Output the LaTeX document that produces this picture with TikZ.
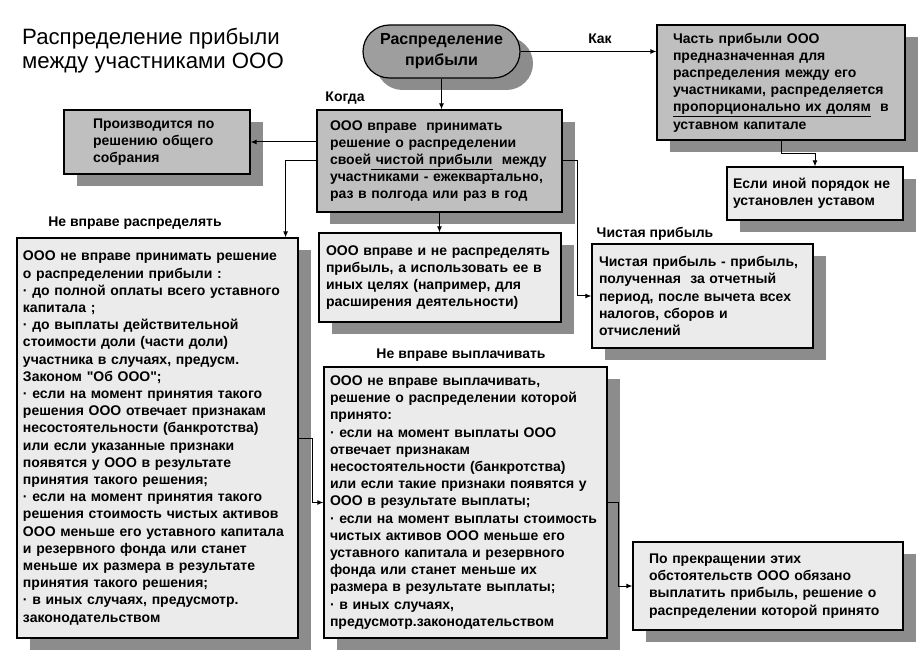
\documentclass[tikz,border=0pt]{standalone}
\usepackage{fontspec}
\setmainfont{Liberation Sans}[Ligatures=TeXOff]
\usetikzlibrary{arrows.meta,shadows,shapes.misc,positioning}

\begin{document}
\begin{tikzpicture}[x=1pt,y=-1pt,
  every node/.style={font=\bfseries\fontsize{14}{17.2}\selectfont},
  shad/.style={drop shadow={shadow xshift=13pt,shadow yshift=-12pt,fill=black!45,opacity=1}},
  graybox/.style={draw,line width=1.2pt,fill=black!25,shad,align=left,inner ysep=0pt},
  dotbox/.style={draw,line width=1.2pt,fill=black!8,shad,align=left,inner ysep=0pt},
  lbl/.style={inner sep=0pt},
  conn/.style={line width=1pt,-{Latex[length=6pt,width=5pt]}}]
  \useasboundingbox (0,0) rectangle (924,668);

  % title and start
  \node[lbl,anchor=west,align=left,font=\fontsize{22.2}{24}\selectfont] (title) at (22,51)
    {Распределение прибыли\\между участниками ООО};
  \node[draw,line width=1.2pt,fill=black!38,shad,rounded rectangle,minimum width=157pt,
    minimum height=53pt,inner sep=0pt,align=center,font=\bfseries\fontsize{16}{21}\selectfont]
    (start) at (441.5,51.5) {Распределение\\прибыли};

  % boxes
  \node[graybox,text width=216pt,inner xsep=16pt,minimum height=115pt] (kak) at (781,82.5)
    {Часть прибыли ООО\\предназначенная для\\распределения между его\\участниками, распределяется\\\underline{пропорционально их долям}\ \ в\\уставном капитале};
  \node[dotbox,text width=164pt,inner xsep=6pt,minimum height=53pt] (esli) at (815,193.5)
    {Если иной порядок не\\установлен уставом};
  \node[graybox,text width=219pt,inner xsep=13pt,minimum height=102pt] (kogda) at (439.5,161)
    {ООО вправе\ \ принимать\\решение о распределении\\своей\underline{ чистой прибыли}\ \ между\\участниками - ежеквартально,\\раз в полгода или раз в год};
  \node[graybox,text width=128pt,inner xsep=29pt,minimum height=64pt] (proiz) at (157,142)
    {Производится по\\решению общего\\собрания};
  \node[dotbox,text width=269pt,inner xsep=6pt,minimum height=400pt] (ne) at (157.5,438)
    {ООО не вправе принимать решение\\о распределении прибыли :\\· до полной оплаты всего уставного\\капитала ;\\· до выплаты действительной\\стоимости доли (части доли)\\участника в случаях, предусм.\\Законом "Об ООО";\\· если на момент принятия такого\\решения ООО отвечает признакам\\несостоятельности (банкротства)\\или если указанные признаки\\появятся у ООО в результате\\принятия такого решения;\\· если на момент принятия такого\\решения стоимость чистых активов\\ООО меньше его уставного капитала\\и резервного фонда или станет\\меньше их размера в результате\\принятия такого решения;\\· в иных случаях, предусмотр.\\законодательством};
  \node[dotbox,text width=228pt,inner xsep=7pt,minimum height=89pt] (vpr) at (440,277.5)
    {ООО вправе и не распределять\\прибыль, а использовать ее в\\иных целях (например, для\\расширения деятельности)};
  \node[dotbox,text width=207pt,inner xsep=7pt,minimum height=104pt] (chist) at (702.5,296)
    {Чистая прибыль - прибыль,\\полученная\ \ за отчетный\\период, после вычета всех\\налогов, сборов и\\отчислений};
  \node[dotbox,text width=271pt,inner xsep=6pt,minimum height=271pt] (nevy) at (465.5,502.5)
    {ООО не вправе выплачивать,\\решение о распределении которой\\принято:\\· если на момент выплаты ООО\\отвечает признакам\\несостоятельности (банкротства)\\или если такие признаки появятся у\\ООО в результате выплаты;\\· если на момент выплаты стоимость\\чистых активов ООО меньше его\\уставного капитала и резервного\\фонда или станет меньше их\\размера в результате выплаты;\\· в иных случаях,\\предусмотр.законодательством};
  \node[dotbox,text width=238pt,inner xsep=16pt,minimum height=88pt] (prek) at (768,586)
    {По прекращении этих\\обстоятельств ООО обязано\\выплатить прибыль, решение о\\распределении которой принято};

  % labels
  \node[lbl] (lkak) at (600,39) {Как};
  \node[lbl] (lkogda) at (345,98) {Когда};
  \node[lbl] (lne) at (135,223) {Не вправе распределять};
  \node[lbl] (lchist) at (655,234) {Чистая прибыль};
  \node[lbl] (lnevy) at (461,355) {Не вправе выплачивать};

  % connectors
  \draw[conn] (start.east) -- (start.east -| kak.west);
  \draw[conn] (start.south) -- (start.south |- kogda.north);
  \draw[conn] (kak.south) -- ++(0,13) -| (esli.north);
  \draw[conn] (kogda.west |- proiz.east) -- (proiz.east);
  \draw[conn] (kogda.west) -| ([xshift=-13pt]ne.north east);
  \draw[conn] (kogda.south) -- (kogda.south |- vpr.north);
  \draw[conn] (kogda.east) -- ++(15,0) |- (chist.west);
  \draw[conn] (ne.east) -- ++(14,0) |- (nevy.west);
  \draw[conn] (nevy.east) -- ++(11,0) |- (prek.west);
\end{tikzpicture}
\end{document}
